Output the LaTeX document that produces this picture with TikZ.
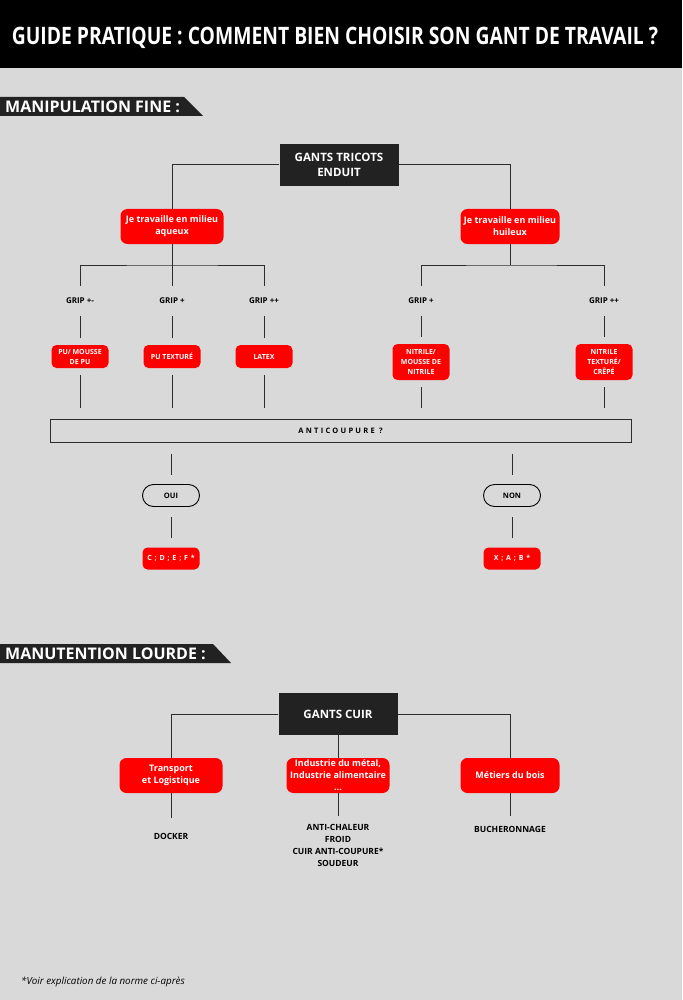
\documentclass[tikz,border=0pt]{standalone}
\usepackage{fontspec}
\setmainfont{Open Sans}
\definecolor{bggray}{RGB}{217,217,217}
\definecolor{boxdark}{RGB}{34,34,34}
\definecolor{gantred}{RGB}{255,0,0}
\definecolor{wireg}{RGB}{45,45,45}

\begin{document}
\begin{tikzpicture}[x=1pt, y=-1pt,
  headbox/.style={fill=boxdark, text=white, font=\bfseries\fontsize{11.5}{15}\selectfont, align=center, minimum width=119pt, minimum height=42pt, inner sep=2pt},
  redbox/.style={fill=gantred, text=white, rounded corners=7pt, font=\bfseries\fontsize{9}{12}\selectfont, align=center, minimum width=103pt, minimum height=35pt, inner sep=1pt},
  minired/.style={redbox, rounded corners=5pt, font=\bfseries\fontsize{7}{10}\selectfont, minimum width=57pt, minimum height=23pt},
  pill/.style={draw=black, line width=0.9pt, rounded corners=11pt, font=\bfseries\fontsize{7.5}{9}\selectfont, minimum width=57pt, minimum height=22pt},
  grip/.style={font=\bfseries\fontsize{8}{9}\selectfont, minimum height=29pt, inner sep=0pt},
  job/.style={font=\bfseries\fontsize{8.5}{12}\selectfont, align=center, inner sep=0pt},
  tagtxt/.style={text=white, font=\bfseries\fontsize{16}{16}\selectfont, anchor=west, inner sep=0pt},
  wire/.style={draw=wireg, line width=1pt},
]
% page: 682 x 1000 (1pt = 1px), y grows downwards
\useasboundingbox (0,0) rectangle (682,1000);
\fill[bggray] (0,0) rectangle (682,1000);

% ---- title band ----
\fill[black] (0,0) rectangle (682,68);
\node[text=white, font=\bfseries\fontsize{24}{24}\selectfont, inner sep=0pt] (title) at (335,38)
  {\scalebox{0.805}[1]{GUIDE PRATIQUE : COMMENT BIEN CHOISIR SON GANT DE TRAVAIL ?}};

% ---- section 1 : manipulation fine ----
\fill[boxdark] (0,97) -- (184,97) -- (203,116) -- (0,116) -- cycle;
\node[tagtxt] (fine) at (5,107) {MANIPULATION FINE :};

\node[headbox] (tricot) at (339,165) {GANTS TRICOTS\\ENDUIT};
\node[redbox] (aqueux) at (172,226.5) {Je travaille en milieu\\aqueux};
\node[redbox, minimum width=99pt] (huileux) at (510,226.5) {Je travaille en milieu\\huileux};
\draw[wire] (tricot.west) -| (aqueux.north);
\draw[wire] (tricot.east) -| (huileux.north);

% grip levels
\coordinate (forkA) at (172,265);
\coordinate (forkB) at (510,265);
\foreach \n/\x/\t in {g1/80/{GRIP +-}, g2/172/{GRIP +}, g3/264/{GRIP ++}, g4/421/{GRIP +}, g5/604/{GRIP ++}}{
  \node[grip] (\n) at (\x,301) {\t};
}
\draw[wire] (aqueux.south) -- (g2.north);
\draw[wire] (g1.north) |- (forkA) -| (g3.north);
\draw[wire] (huileux.south) -- (forkB);
\draw[wire] (g4.north) |- (forkB) -| (g5.north);

% coatings
\node[minired] (pu) at (80,356.5) {PU/ MOUSSE\\DE PU};
\node[minired] (putex) at (172,356.5) {PU TEXTURÉ};
\node[minired] (latex) at (264,356.5) {LATEX};
\node[minired, minimum height=36pt] (nitrile) at (421,362) {NITRILE/\\MOUSSE DE\\NITRILE};
\node[minired, minimum height=36pt] (nitex) at (604,362) {NITRILE\\TEXTURÉ/\\CRÊPÉ};
\foreach \a/\b in {g1/pu, g2/putex, g3/latex, g4/nitrile, g5/nitex}{
  \draw[wire, shorten >=7pt] (\a.south) -- (\b.north);
}

% anticoupure ?
\node[draw=wireg, line width=1pt, minimum width=581pt, minimum height=23pt, inner sep=0pt,
  font=\bfseries\fontsize{7.5}{9}\selectfont\addfontfeature{LetterSpace=30}] (anti) at (340.5,431) {ANTICOUPURE ?};
\foreach \b in {pu, putex, latex, nitrile, nitex}{
  \draw[wire, shorten <=7pt, shorten >=11pt] (\b.south) -- (\b.south |- anti.north);
}

\node[pill] (oui) at (171,495.5) {OUI};
\node[pill] (non) at (512,495.5) {NON};
\node[minired, minimum height=22pt] (refoui) at (171,558.5) {\addfontfeature{LetterSpace=15}C ; D ; E ; F *};
\node[minired, minimum height=22pt] (refnon) at (512,558.5) {\addfontfeature{LetterSpace=15}X ; A ; B *};
\draw[wire, shorten <=11pt, shorten >=9pt] (oui |- anti.south) -- (oui.north);
\draw[wire, shorten <=11pt, shorten >=9pt] (non |- anti.south) -- (non.north);
\draw[wire, shorten <=10pt, shorten >=9pt] (oui.south) -- (refoui.north);
\draw[wire, shorten <=10pt, shorten >=9pt] (non.south) -- (refnon.north);

% ---- section 2 : manutention lourde ----
\fill[boxdark] (0,644) -- (213,644) -- (231,663) -- (0,663) -- cycle;
\node[tagtxt] (lourde) at (5,654) {MANUTENTION LOURDE :};

\node[headbox] (cuir) at (338,714) {GANTS CUIR};
\node[redbox] (transport) at (171,775.5) {Transport\\et Logistique};
\node[redbox] (metal) at (338,775.5) {Industrie du métal,\\Industrie alimentaire\\...};
\node[redbox, minimum width=99pt] (bois) at (510,775.5) {Métiers du bois};
\draw[wire] (cuir.west) -| (transport.north);
\draw[wire] (cuir.east) -| (bois.north);
\draw[wire] (cuir.south) -- (metal.north);

\node[job] (docker) at (171,836) {DOCKER};
\node[job, anchor=north] (metiers) at (338,824) {ANTI-CHALEUR\\FROID\\CUIR ANTI-COUPURE*\\SOUDEUR};
\node[job] (buche) at (510,829) {BUCHERONNAGE};
\draw[wire, shorten >=15pt] (transport.south) -- (docker.north);
\draw[wire, shorten >=8pt] (metal.south) -- (metiers.north);
\draw[wire, shorten >=10pt] (bois.south) -- (buche.north);

% ---- footnote ----
\node[anchor=west, inner sep=0pt, font=\itshape\fontsize{9.8}{11}\selectfont] (note) at (21,982) {*Voir explication de la norme ci-après};
\end{tikzpicture}
\end{document}
